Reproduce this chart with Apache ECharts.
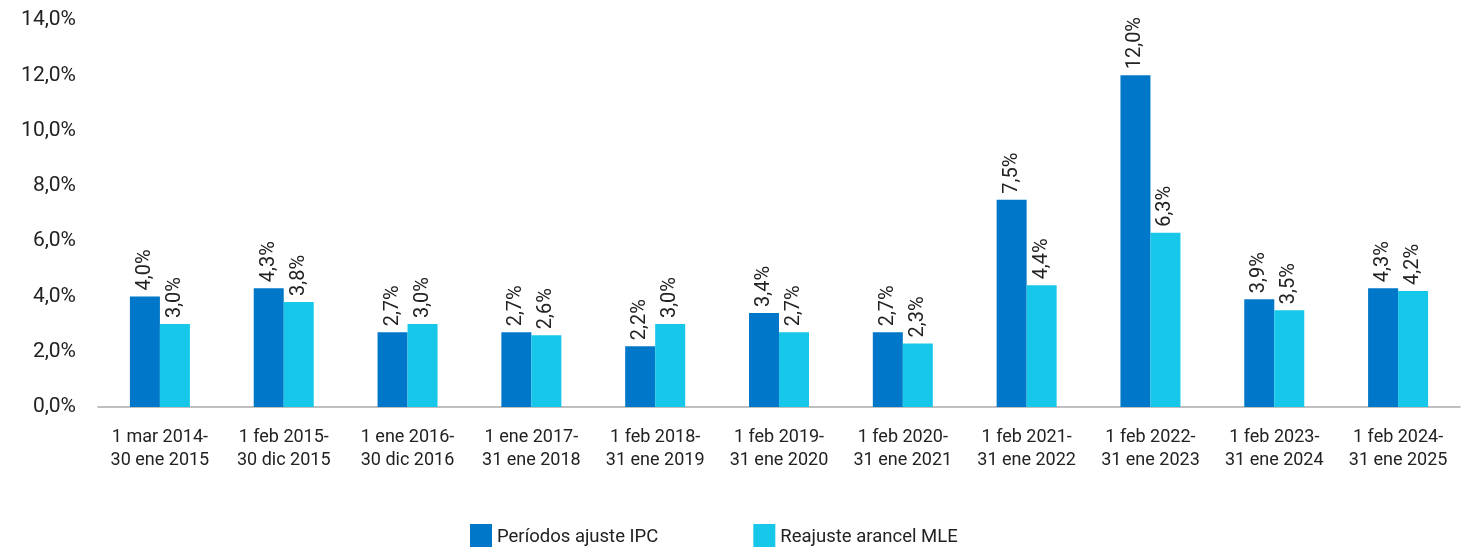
<!DOCTYPE html>
<html>
<head>
<meta charset="utf-8">
<script src="https://cdn.jsdelivr.net/npm/echarts@6/dist/echarts.min.js"></script>
<style>
  html, body { margin: 0; padding: 0; background: #fff; }
  #chart { width: 1473px; height: 547px; }
</style>
</head>
<body>
<div id="chart"></div>
<script>
const periods = [
  '1 mar 2014-\n30 ene 2015',
  '1 feb 2015-\n30 dic 2015',
  '1 ene 2016-\n30 dic 2016',
  '1 ene 2017-\n31 ene 2018',
  '1 feb 2018-\n31 ene 2019',
  '1 feb 2019-\n31 ene 2020',
  '1 feb 2020-\n31 ene 2021',
  '1 feb 2021-\n31 ene 2022',
  '1 feb 2022-\n31 ene 2023',
  '1 feb 2023-\n31 ene 2024',
  '1 feb 2024-\n31 ene 2025'
];
const ipc = [4.0, 4.3, 2.7, 2.7, 2.2, 3.4, 2.7, 7.5, 12.0, 3.9, 4.3];
const mle = [3.0, 3.8, 3.0, 2.6, 3.0, 2.7, 2.3, 4.4, 6.3, 3.5, 4.2];

const fmt = (v) => v.toFixed(1).replace('.', ',') + '%';
const font = 'Roboto, "DejaVu Sans", sans-serif';

const chart = echarts.init(document.getElementById('chart'));

const barLabel = {
  show: true,
  position: 'top',
  rotate: 90,
  align: 'left',
  verticalAlign: 'middle',
  distance: 6,
  color: '#222',
  fontSize: 20,
  fontFamily: font,
  formatter: (p) => fmt(p.value)
};

chart.setOption({
  animation: false,
  backgroundColor: '#fff',
  textStyle: { fontFamily: font },
  grid: { left: 98, right: 13, top: 20, bottom: 140, containLabel: false },
  legend: {
    top: 519,
    left: 465,
    itemWidth: 22,
    itemHeight: 27,
    itemGap: 95,
    icon: 'rect',
    textStyle: { fontSize: 18.5, color: '#222', fontFamily: font },
    data: ['Períodos ajuste IPC', 'Reajuste arancel MLE']
  },
  xAxis: {
    type: 'category',
    data: periods,
    axisLine: { lineStyle: { color: '#aaa', width: 1.5 } },
    axisTick: { show: false },
    axisLabel: { color: '#222', fontSize: 18, lineHeight: 23, margin: 19, interval: 0 }
  },
  yAxis: {
    type: 'value',
    min: 0,
    max: 14,
    interval: 2,
    splitLine: { show: false },
    axisLine: { show: false },
    axisTick: { show: false },
    axisLabel: { color: '#222', fontSize: 21, margin: 22, formatter: (v) => fmt(v) }
  },
  series: [
    {
      name: 'Períodos ajuste IPC',
      type: 'bar',
      data: ipc,
      barWidth: 30,
      barGap: '0%',
      itemStyle: { color: '#0077C8' },
      label: barLabel
    },
    {
      name: 'Reajuste arancel MLE',
      type: 'bar',
      data: mle,
      barWidth: 30,
      itemStyle: { color: '#17C7EA' },
      label: barLabel
    }
  ]
});
</script>
</body>
</html>
